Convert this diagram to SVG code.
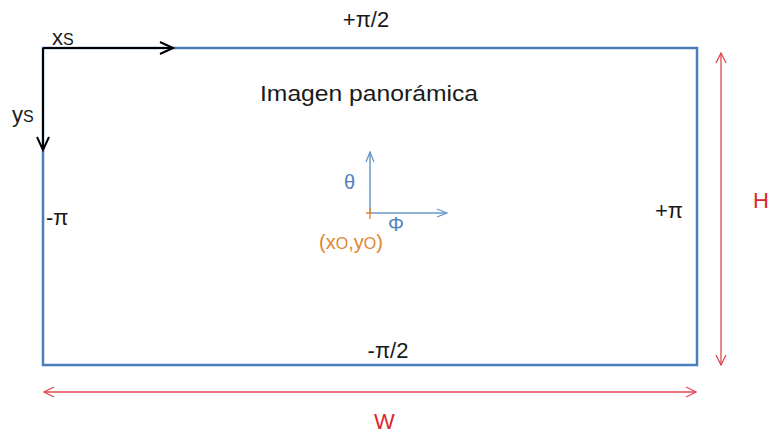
<svg xmlns="http://www.w3.org/2000/svg" width="771" height="434" viewBox="0 0 771 434">
<defs>
<style>
text{font-family:"Liberation Sans","Open Sans",sans-serif;}
.k{fill:#1a1a1a;font-size:22px;}
.b{fill:#4f81bd;font-size:20px;}
.o{fill:#e2862f;font-size:20px;}
.r{fill:#e0252a;font-size:22px;}
.ax{stroke:#000;stroke-width:2;fill:none;}
.bl{stroke:#6a98cc;stroke-width:1.5;fill:none;}
.rd{stroke:#e0474f;stroke-width:1.3;fill:none;}
</style>
<marker id="ak" markerWidth="16" markerHeight="14" refX="14" refY="7" orient="auto" markerUnits="userSpaceOnUse"><path d="M1,1 L14,7 L1,13" fill="none" stroke="#000" stroke-width="2"/></marker>
<marker id="ab" markerWidth="12" markerHeight="10" refX="11" refY="5" orient="auto" markerUnits="userSpaceOnUse"><path d="M1,1 L11,5 L1,9" fill="none" stroke="#6a98cc" stroke-width="1.3"/></marker>
<marker id="ar" markerWidth="12" markerHeight="12" refX="11" refY="6" orient="auto-start-reverse" markerUnits="userSpaceOnUse"><path d="M1,1 L11,6 L1,11" fill="none" stroke="#e0474f" stroke-width="1.3"/></marker>
</defs>
<rect width="771" height="434" fill="#fff"/>
<g id="panorama">
<rect x="43" y="48" width="654" height="317" fill="none" stroke="#4a7ebb" stroke-width="2.5"/>
<text class="k" x="366" y="27" text-anchor="middle">+π/2</text>
<text class="k" x="260" y="101" font-size="23" textLength="218" lengthAdjust="spacingAndGlyphs">Imagen panorámica</text>
<text class="k" x="46" y="225">-π</text>
<text class="k" x="655" y="218">+π</text>
<text class="k" x="388" y="358" text-anchor="middle">-π/2</text>
</g>
<g id="connectors">
<line class="ax" x1="43" y1="48" x2="173" y2="48" marker-end="url(#ak)"/>
<line class="ax" x1="43" y1="48" x2="43" y2="150" marker-end="url(#ak)"/>
<line class="bl" x1="370" y1="213" x2="370" y2="152" marker-end="url(#ab)"/>
<line class="bl" x1="370" y1="213" x2="447" y2="213" marker-end="url(#ab)"/>
<path d="M370,208 V219 M366,213 H372" stroke="#e2862f" stroke-width="1.3" fill="none"/>
<line class="rd" x1="721" y1="53" x2="721" y2="365" marker-start="url(#ar)" marker-end="url(#ar)"/>
<line class="rd" x1="44" y1="392" x2="696" y2="392" marker-start="url(#ar)" marker-end="url(#ar)"/>
</g>
<g id="labels">
<text class="k" x="52" y="45">x<tspan font-size="16">S</tspan></text>
<text class="k" x="12" y="122">y<tspan font-size="16">S</tspan></text>
<text class="b" x="344" y="189">θ</text>
<text class="b" x="388" y="231">Φ</text>
<text class="o" x="319" y="249">(x<tspan font-size="16">O</tspan>,y<tspan font-size="16">O</tspan>)</text>
<text class="r" x="753" y="208">H</text>
<text class="r" x="374" y="429" font-size="21">W</text>
</g>
</svg>
